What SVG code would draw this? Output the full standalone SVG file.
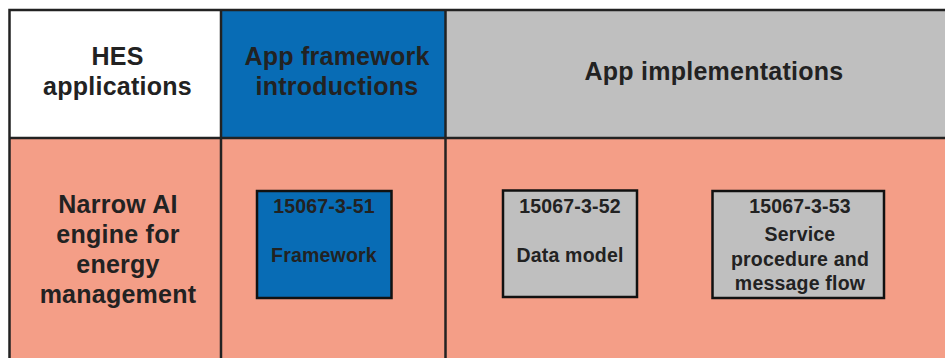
<svg xmlns="http://www.w3.org/2000/svg" width="945" height="358" viewBox="0 0 945 358">
<style>
.t{font-family:"Liberation Sans",Arial,Helvetica,sans-serif;font-weight:bold;fill:#222;text-anchor:middle}
.h{font-size:25px;letter-spacing:0.25px}
.b{font-size:19.5px;letter-spacing:0.2px}
.grid{stroke:#222;stroke-width:2.5;fill:none}
.box{stroke:#111;stroke-width:2.5}
</style>
<rect width="945" height="358" fill="#ffffff"/>
<g id="cells">
<rect x="9.5" y="10" width="211.5" height="128" fill="#ffffff"/>
<rect x="221" y="10" width="224.5" height="128" fill="#086CB5"/>
<rect x="445.5" y="10" width="499.5" height="128" fill="#BFBFBF"/>
<rect x="9.5" y="138" width="935.5" height="220" fill="#F49E87"/>
</g>
<g id="grid">
<path class="grid" d="M9.5 358V10H945M9.5 138H945M221 10V358M445.5 10V358"/>
</g>
<g id="hdr-hes">
<text class="t h" x="117.5" y="64.5">HES</text>
<text class="t h" x="117.5" y="94.5">applications</text>
</g>
<g id="hdr-framework">
<text class="t h" x="337" y="64.5">App framework</text>
<text class="t h" x="337" y="94.5">introductions</text>
</g>
<g id="hdr-impl">
<text class="t h" x="714" y="80">App implementations</text>
</g>
<g id="row-engine">
<text class="t h" x="118" y="213">Narrow AI</text>
<text class="t h" x="118" y="243">engine for</text>
<text class="t h" x="118" y="273">energy</text>
<text class="t h" x="118" y="303">management</text>
</g>
<g id="box-51">
<rect class="box" x="257" y="191" width="134.5" height="107" fill="#086CB5"/>
<text class="t b" x="324" y="213.3">15067-3-51</text>
<text class="t b" x="324" y="261.7">Framework</text>
</g>
<g id="box-52">
<rect class="box" x="503" y="190.5" width="134" height="106.5" fill="#BFBFBF"/>
<text class="t b" x="570" y="212.7">15067-3-52</text>
<text class="t b" x="570" y="261.7">Data model</text>
</g>
<g id="box-53">
<rect class="box" x="712.5" y="191" width="171.5" height="107" fill="#BFBFBF"/>
<text class="t b" x="800" y="212.7">15067-3-53</text>
<text class="t b" x="800" y="240.7">Service</text>
<text class="t b" x="800" y="265.5">procedure and</text>
<text class="t b" x="800" y="289.5">message flow</text>
</g>
<g id="connectors"></g>
</svg>
